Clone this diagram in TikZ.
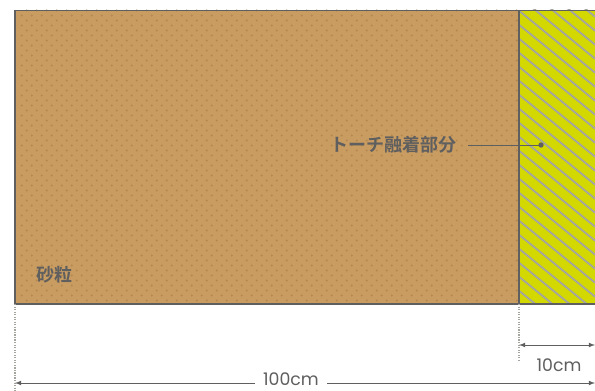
\documentclass[tikz,border=0pt]{standalone}
\usepackage{fontspec}
\usepackage{xcolor}
\setmainfont{Noto Sans CJK JP}[BoldFont={Noto Sans CJK JP Bold}]
\newfontfamily\dimfont{Poppins}
\usetikzlibrary{arrows,positioning}
\definecolor{sandcol}{HTML}{C99C62}
\definecolor{grancol}{HTML}{B58850}
\definecolor{torchcol}{HTML}{D2D800}
\definecolor{hatchcol}{HTML}{A5A5A0}
\definecolor{inkcol}{HTML}{5F5F5F}
\begin{document}
\begin{tikzpicture}[x=0.75pt,y=-0.75pt]
    \tikzstyle{area}=[minimum height=220.5pt, inner sep=0pt, outer sep=0pt, anchor=north west]
    \tikzstyle{border}=[draw=inkcol, line width=1.8pt]
    \tikzstyle{dimline}=[latex-latex, draw=inkcol, line width=0.6pt]
    \tikzstyle{guide}=[densely dotted, draw=hatchcol, line width=0.9pt]
    \tikzstyle{label}=[text=inkcol, font=\bfseries\fontsize{13.5}{14}\selectfont, inner sep=0pt]
    \tikzstyle{dimlabel}=[text=inkcol, font=\dimfont\fontsize{13}{13}\selectfont, inner sep=0pt]
    \useasboundingbox (0,0) rectangle (595,391);
    \node[area,fill=sandcol,minimum width=378pt] (sand) at (15,10) {};
    \node[area,fill=torchcol,minimum width=57pt] (torch) at (519,10) {};
    % grains
    \begin{scope}
    \clip (15,10) rectangle (519,304);
    \foreach \row in {0,...,59} {
        \foreach \col in {0,...,50} {
            \pgfmathsetmacro{\px}{21.7+\col*10+mod(\row+1,2)*5}
            \pgfmathsetmacro{\py}{10.5+\row*5}
            \fill[grancol] (\px,\py) circle (0.85pt);
        }
    }
    \end{scope}
    % hatching
    \begin{scope}
    \clip (519,10) rectangle (595,304);
    \foreach \i in {-6,...,21} {
        \draw[hatchcol,line width=1.4pt] (519,{24.7+\i*14}) -- (595,{24.7+\i*14+62});
    }
    \end{scope}
    \draw[border] (15,10) -- (15,304) -- (595,304);
    \draw[border] (519,10) -- (519,304);
    \draw[inkcol,line width=0.4pt] (15,10) -- (595,10);
    \node[label] (sandlabel) at (54,275) {砂粒};
    \node[label] (torchlabel) at (393,145) {トーチ融着部分};
    \coordinate (torchpoint) at (541,145);
    \fill[inkcol] (torchpoint) circle (2pt);
    \draw[inkcol,line width=0.6pt] (468,145) -- (torchpoint);
    % dimensions
    \coordinate (left) at (15,304);
    \coordinate (leftend) at (15,391);
    \coordinate (mid) at (519,304);
    \coordinate (midend) at (519,361);
    \draw[guide] (left) -- (leftend);
    \draw[guide] (mid) -- (midend);
    \coordinate (a) at (519,345);
    \coordinate (b) at (595,345);
    \coordinate (c) at (15,383);
    \coordinate (d) at (595,383);
    \draw[dimline] (a) -- (b);
    \node[dimlabel] (ten) at (559,365) {10cm};
    \draw[dimline] (c) -- (d);
    \node[dimlabel,fill=white,minimum width=54pt,minimum height=10pt] (hundred) at (291,379.5) {100cm};
\end{tikzpicture}
\end{document}
